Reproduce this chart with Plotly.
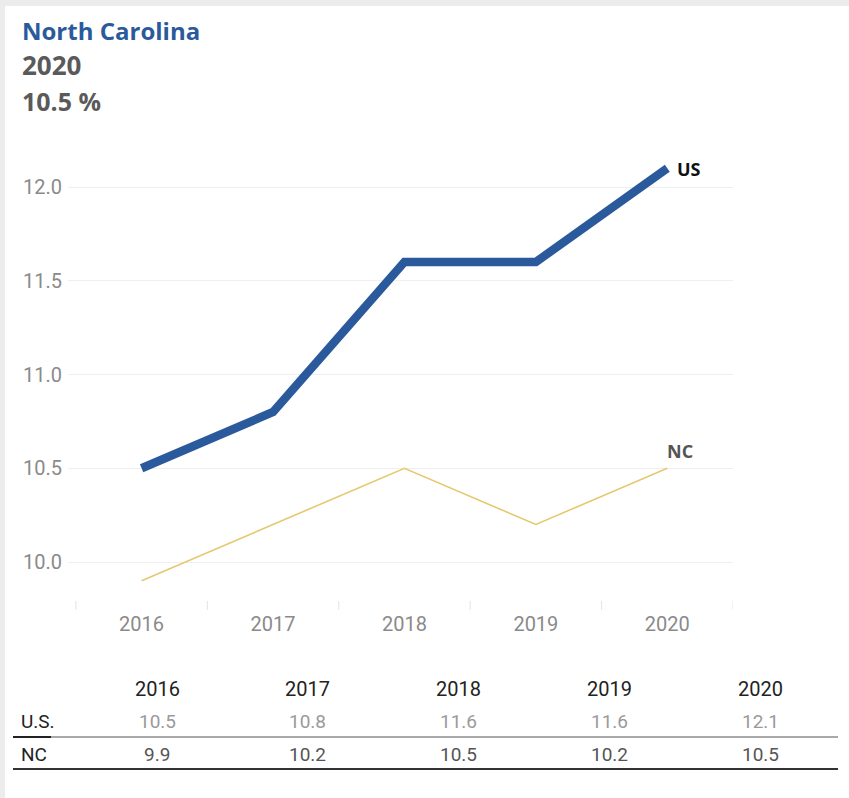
import plotly.graph_objects as go

# Uninsured rate (%), by year
years = ["2016", "2017", "2018", "2019", "2020"]
us_values = [10.5, 10.8, 11.6, 11.6, 12.1]
nc_values = [9.9, 10.2, 10.5, 10.2, 10.5]
y_ticks = [10.0, 10.5, 11.0, 11.5, 12.0]

state_name = "North Carolina"
headline_year = "2020"
headline_value = nc_values[years.index(headline_year)]

W, H = 849, 798
PL, PR, PT, PB = 68, 733, 140, 605  # plot area in page pixels

BLUE = "#2b5a9c"
GOLD = "#e6c870"
FONT = "Open Sans, Noto Sans, sans-serif"
NUM_FONT = "Roboto, sans-serif"


def px_x(x):
    return (x - PL) / (PR - PL)


def px_y(y):
    return (PB - y) / (PB - PT)


x_idx = list(range(len(years)))

fig = go.Figure()
fig.add_trace(go.Scatter(
    x=x_idx, y=nc_values, mode="lines",
    line=dict(color=GOLD, width=1.6), hoverinfo="skip", showlegend=False,
))
fig.add_trace(go.Scatter(
    x=x_idx, y=us_values, mode="lines",
    line=dict(color=BLUE, width=8.5), hoverinfo="skip", showlegend=False,
))

annotations = []
shapes = []

# Header block
annotations += [
    dict(text=f"<b>{state_name}</b>", x=px_x(20), y=px_y(30), xref="paper", yref="paper",
         xanchor="left", yanchor="middle", showarrow=False,
         font=dict(family=FONT, size=24, color="#2a5a9c")),
    dict(text=f"<b>{headline_year}</b>", x=px_x(20), y=px_y(65), xref="paper", yref="paper",
         xanchor="left", yanchor="middle", showarrow=False,
         font=dict(family=FONT, size=26, color="#5a5a5a")),
    dict(text=f"<b>{headline_value} %</b>", x=px_x(20), y=px_y(101), xref="paper", yref="paper",
         xanchor="left", yanchor="middle", showarrow=False,
         font=dict(family=FONT, size=25, color="#5a5a5a")),
]

# Series end labels
annotations += [
    dict(text="<b>US</b>", x=x_idx[-1], y=us_values[-1], xref="x", yref="y",
         xanchor="left", yanchor="middle", xshift=8, yshift=-1, showarrow=False,
         font=dict(family=FONT, size=18, color="#111111")),
    dict(text="<b>NC</b>", x=x_idx[-1], y=nc_values[-1], xref="x", yref="y",
         xanchor="left", yanchor="bottom", xshift=-2, yshift=3, showarrow=False,
         font=dict(family=FONT, size=18, color="#555555")),
]

# Y tick labels
for v in y_ticks:
    annotations.append(dict(
        text=f"{v:.1f}", x=px_x(64), y=v, xref="paper", yref="y",
        xanchor="right", yanchor="middle", showarrow=False,
        font=dict(family=NUM_FONT, size=20, color="#8a8a8a")))

# Category boundary ticks below the plot
for i in range(len(years) + 1):
    shapes.append(dict(type="line", xref="x", yref="paper",
                       x0=i - 0.5, x1=i - 0.5, y0=px_y(601), y1=px_y(610),
                       line=dict(color="#e4e4e4", width=1)))

# Data table
col_x = [157, 307, 458, 609, 760]
for cx, yr in zip(col_x, years):
    annotations.append(dict(text=yr, x=px_x(cx), y=px_y(689), xref="paper", yref="paper",
                            xanchor="center", yanchor="middle", showarrow=False,
                            font=dict(family=NUM_FONT, size=20, color="#222222")))
for cx, v in zip(col_x, us_values):
    annotations.append(dict(text=f"{v:.1f}", x=px_x(cx), y=px_y(721), xref="paper", yref="paper",
                            xanchor="center", yanchor="middle", showarrow=False,
                            font=dict(family=NUM_FONT, size=19, color="#9a9a9a")))
for cx, v in zip(col_x, nc_values):
    annotations.append(dict(text=f"{v:.1f}", x=px_x(cx), y=px_y(754), xref="paper", yref="paper",
                            xanchor="center", yanchor="middle", showarrow=False,
                            font=dict(family=NUM_FONT, size=19, color="#555555")))
annotations += [
    dict(text="U.S.", x=px_x(19), y=px_y(721), xref="paper", yref="paper",
         xanchor="left", yanchor="middle", showarrow=False,
         font=dict(family=NUM_FONT, size=19, color="#222222")),
    dict(text="NC", x=px_x(19), y=px_y(754), xref="paper", yref="paper",
         xanchor="left", yanchor="middle", showarrow=False,
         font=dict(family=NUM_FONT, size=19, color="#222222")),
]
shapes += [
    dict(type="line", xref="paper", yref="paper", x0=px_x(50), x1=px_x(838),
         y0=px_y(737), y1=px_y(737), line=dict(color="#8c8c8c", width=1.5)),
    dict(type="line", xref="paper", yref="paper", x0=px_x(13), x1=px_x(51),
         y0=px_y(737), y1=px_y(737), line=dict(color="#222222", width=2)),
    dict(type="line", xref="paper", yref="paper", x0=px_x(13), x1=px_x(838),
         y0=px_y(769), y1=px_y(769), line=dict(color="#333333", width=2)),
]

# Page frame bands
shapes += [
    dict(type="rect", xref="paper", yref="paper", x0=px_x(0), x1=px_x(W),
         y0=px_y(0), y1=px_y(6), fillcolor="#ececec", line=dict(width=0), layer="below"),
    dict(type="rect", xref="paper", yref="paper", x0=px_x(0), x1=px_x(5),
         y0=px_y(0), y1=px_y(H), fillcolor="#ececec", line=dict(width=0), layer="below"),
]

n = len(years)
fig.update_layout(
    width=W, height=H,
    margin=dict(l=PL, r=W - PR, t=PT, b=H - PB, pad=0),
    paper_bgcolor="white", plot_bgcolor="white",
    xaxis=dict(range=[-0.56, n - 0.5], tickvals=x_idx, ticktext=years,
               showgrid=False, zeroline=False, showline=False, ticks="",
               ticklabelstandoff=5,
               tickfont=dict(family=NUM_FONT, size=20, color="#8a8a8a"),
               fixedrange=True),
    yaxis=dict(range=[10.0 - (PB - 562) / 187.5, 12.0 + (187 - PT) / 187.5],
               tickvals=y_ticks, showticklabels=False, showgrid=True,
               gridcolor="#efefef", gridwidth=1, zeroline=False, showline=False,
               fixedrange=True),
    annotations=annotations, shapes=shapes,
    showlegend=False,
)

fig.write_html("out.html", config={"displayModeBar": False})
